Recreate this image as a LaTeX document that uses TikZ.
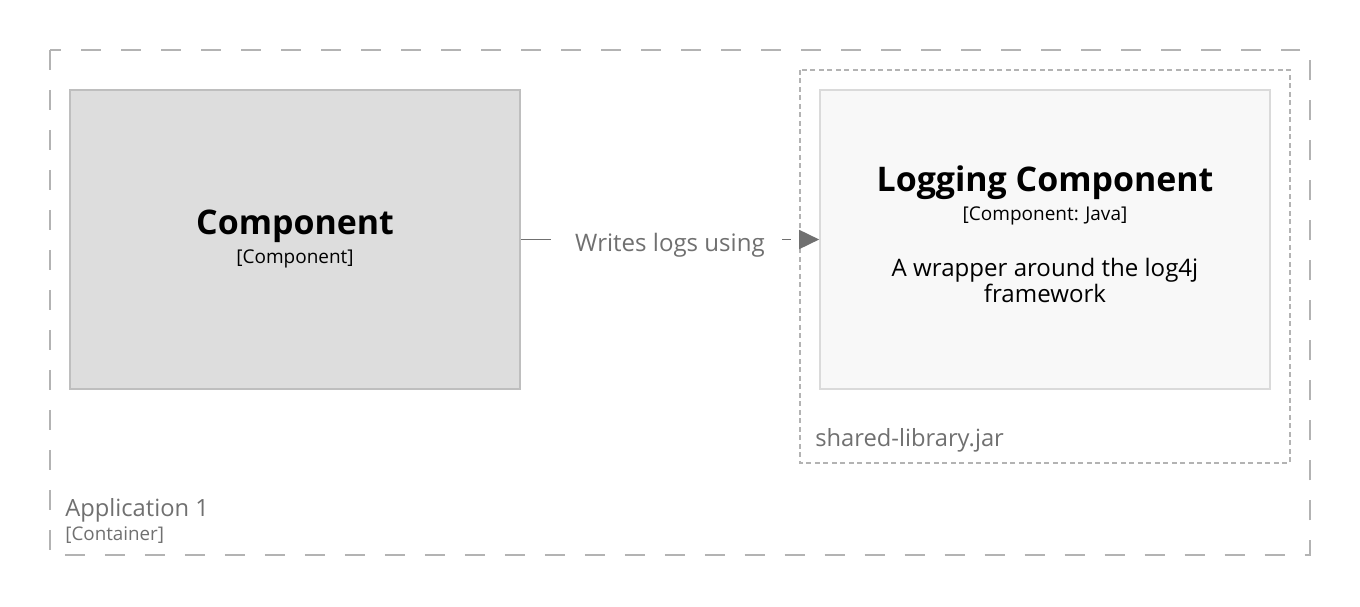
\documentclass[tikz,border=0pt]{standalone}
\usepackage{fontspec}
\setmainfont{Open Sans}
\usepackage{xcolor}
\definecolor{box-grey}{HTML}{DDDDDD}
\definecolor{box-edge}{HTML}{BEBEBE}
\definecolor{pale-box}{HTML}{F8F8F8}
\definecolor{pale-edge}{HTML}{DADADA}
\definecolor{dash-grey}{HTML}{B3B3B3}
\definecolor{text-grey}{HTML}{707070}
\usetikzlibrary{arrows.meta,positioning}
\tikzset{
    x=0.02cm,y=-0.02cm,
    component/.style={rectangle, draw=box-edge, fill=box-grey, line width=1pt, minimum width=9cm, minimum height=5.98cm, inner sep=0pt},
    logbox/.style={component, draw=pale-edge, fill=pale-box},
    boundary/.style={draw=dash-grey, line width=1.1pt, dash pattern=on 0.4cm off 0.4cm},
    jarline/.style={draw=dash-grey, line width=0.9pt, dash pattern=on 0.1cm off 0.07cm},
    title/.style={font=\bfseries\fontsize{19.3}{23}\selectfont, inner sep=0pt, anchor=base},
    kind/.style={font=\fontsize{10.8}{13}\selectfont, inner sep=0pt, anchor=base},
    desc/.style={font=\fontsize{13.7}{15.2}\selectfont, align=center, inner sep=0pt, anchor=base},
    grey-label/.style={font=\fontsize{13.5}{16}\selectfont, text=text-grey, inner sep=0pt, anchor=base west},
    uses/.style={draw=text-grey, line width=1pt, dash pattern=on 0.6cm off 0.2cm, -{Triangle[length=0.4cm, width=0.38cm]}}
}
\begin{document}
\begin{tikzpicture}
      \useasboundingbox (0,0) rectangle (1360,607);
      % boundaries
      \draw[boundary] (50,50) rectangle (1310,555);
      \draw[jarline] (800,70) rectangle (1290,463);
      % boxes
      \node[component] (comp) at (295,239.5) {};
      \node[logbox] (log) at (1045,239.5) {};
      \node[title] (comp-title) at (295,235) {Component};
      \node[kind] (comp-kind) at (295,264) {[Component]};
      \node[title] (log-title) at (1045,192) {Logging Component};
      \node[kind] (log-kind) at (1045,221) {[Component: Java]};
      \node[desc] (log-desc) at (1045,303) {A wrapper around the log4j\\framework};
      % boundary labels
      \node[grey-label] (jar) at (815,447) {shared-library.jar};
      \node[grey-label] (app) at (65,517) {Application 1};
      \node[grey-label, font=\fontsize{10.7}{13}\selectfont] (app-kind) at (65,541) {[Container]};
      % relationship
      \draw[uses] (comp.east) -- node[fill=white, yshift=-3, inner xsep=10pt, inner ysep=4pt, font=\fontsize{13.7}{16}\selectfont, text=text-grey] (rel) {Writes logs using} (log.west);
\end{tikzpicture}
\end{document}
